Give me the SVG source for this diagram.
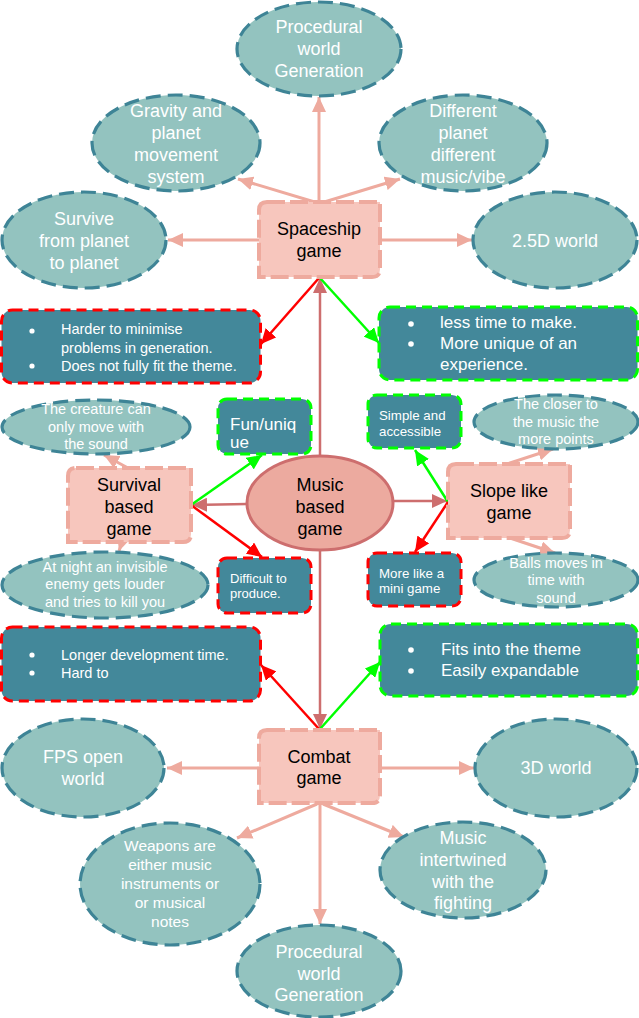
<svg xmlns="http://www.w3.org/2000/svg" width="639" height="1018" viewBox="0 0 639 1018">
<style>
text{font-family:"Liberation Sans",Arial,sans-serif;text-anchor:middle}
.ell{fill:#93c3bf;stroke:#3e8496;stroke-width:3.2;stroke-dasharray:15 7}
.wt{fill:#ffffff}
.bk{fill:#000000}
.game{fill:#f7c6bd;stroke:#eeaa9e;stroke-width:4;stroke-dasharray:18 5}
.boxr{fill:#43889a;stroke:#ff0000;stroke-width:3;stroke-dasharray:10 6}
.boxg{fill:#43889a;stroke:#00ff00;stroke-width:3;stroke-dasharray:10 6}
.sal{stroke:#eeaa9e;stroke-width:3;fill:none;marker-end:url(#ms)}
.dr{stroke:#cd6e6e;stroke-width:2.5;fill:none;marker-end:url(#md)}
.rd{stroke:#ff0000;stroke-width:2.5;fill:none;marker-end:url(#mr)}
.gr{stroke:#00ff00;stroke-width:2.5;fill:none;marker-end:url(#mg)}
.la{text-anchor:start}
</style>
<defs>
<marker id="ms" markerUnits="userSpaceOnUse" markerWidth="16" markerHeight="14" refX="15" refY="7" orient="auto"><path d="M0,0 L15,7 L0,14 z" fill="#eeaa9e"/></marker>
<marker id="md" markerUnits="userSpaceOnUse" markerWidth="16" markerHeight="14" refX="15" refY="7" orient="auto"><path d="M0,0 L15,7 L0,14 z" fill="#cd6e6e"/></marker>
<marker id="mr" markerUnits="userSpaceOnUse" markerWidth="16" markerHeight="14" refX="15" refY="7" orient="auto"><path d="M0,0 L15,7 L0,14 z" fill="#ff0000"/></marker>
<marker id="mg" markerUnits="userSpaceOnUse" markerWidth="16" markerHeight="14" refX="15" refY="7" orient="auto"><path d="M0,0 L15,7 L0,14 z" fill="#00ff00"/></marker>
</defs>
<rect width="639" height="1018" fill="#ffffff"/>

<g id="connectors">
<path class="sal" d="M319,202 L319,97"/>
<path class="sal" d="M318,203 L238,179"/>
<path class="sal" d="M321,203 L400,179"/>
<path class="sal" d="M259,240 L168,240"/>
<path class="sal" d="M380,240 L472,240"/>
<path class="dr" d="M320,457 L320,278"/>
<path class="dr" d="M320,550 L320,729"/>
<path class="dr" d="M247,504 L192,505"/>
<path class="dr" d="M393,501 L447,501"/>
<path class="rd" d="M319,278 L261,344"/>
<path class="gr" d="M320,278 L379,343"/>
<path class="gr" d="M191,505 L262,455"/>
<path class="rd" d="M191,505 L262,557"/>
<path class="gr" d="M448,502 L415,450"/>
<path class="rd" d="M448,502 L415,552"/>
<path class="rd" d="M319,729 L261,665"/>
<path class="gr" d="M320,729 L380,662"/>
<path class="sal" d="M128,468 L104,455"/>
<path class="sal" d="M122,542 L119,551"/>
<path class="sal" d="M507,464 L553,449"/>
<path class="sal" d="M510,538 L555,553"/>
<path class="sal" d="M259,768 L167,768"/>
<path class="sal" d="M380,768 L474,768"/>
<path class="sal" d="M320,803 L320,924"/>
<path class="sal" d="M317,804 L237,838"/>
<path class="sal" d="M323,804 L404,837"/>
</g>

<g id="n-proc-top"><ellipse class="ell" cx="319" cy="49" rx="82" ry="47"/>
<text class="wt" font-size="18"><tspan x="319" y="33">Procedural</tspan><tspan x="319" y="55">world</tspan><tspan x="319" y="77">Generation</tspan></text></g>

<g id="n-gravity"><ellipse class="ell" cx="176" cy="143" rx="84" ry="48"/>
<text class="wt" font-size="18"><tspan x="176" y="117">Gravity and</tspan><tspan x="176" y="139">planet</tspan><tspan x="176" y="161">movement</tspan><tspan x="176" y="183">system</tspan></text></g>

<g id="n-different"><ellipse class="ell" cx="463" cy="143" rx="84" ry="48"/>
<text class="wt" font-size="18"><tspan x="463" y="117">Different</tspan><tspan x="463" y="139">planet</tspan><tspan x="463" y="161">different</tspan><tspan x="463" y="183">music/vibe</tspan></text></g>

<g id="n-survive"><ellipse class="ell" cx="84" cy="240" rx="82" ry="48"/>
<text class="wt" font-size="18"><tspan x="84" y="225">Survive</tspan><tspan x="84" y="247">from planet</tspan><tspan x="84" y="269">to planet</tspan></text></g>

<g id="n-25d"><ellipse class="ell" cx="555" cy="240" rx="82" ry="48"/>
<text class="wt" font-size="18" x="555" y="247">2.5D world</text></g>

<g id="n-spaceship"><path class="game" d="M267,202 L380,202 L380,269 Q380,277 372,277 L259,277 L259,210 Q259,202 267,202 z"/>
<text class="bk" font-size="18"><tspan x="319" y="235">Spaceship</tspan><tspan x="319" y="257">game</tspan></text></g>

<g id="n-cons-space"><rect class="boxr" x="1.5" y="310" width="259" height="73" rx="11"/>
<circle class="wt" cx="32" cy="331" r="2.6"/><circle class="wt" cx="32" cy="366" r="2.6"/>
<text class="wt la" font-size="14.5"><tspan x="61" y="334">Harder to minimise</tspan><tspan x="61" y="353">problems in generation.</tspan><tspan x="61" y="371">Does not fully fit the theme.</tspan></text></g>

<g id="n-pros-space"><rect class="boxg" x="379" y="307" width="258.5" height="73" rx="11"/>
<circle class="wt" cx="411" cy="324" r="2.8"/><circle class="wt" cx="411" cy="344" r="2.8"/>
<text class="wt la" font-size="17"><tspan x="440" y="328">less time to make.</tspan><tspan x="440" y="349">More unique of an</tspan><tspan x="440" y="370">experience.</tspan></text></g>

<g id="n-creature"><ellipse class="ell" cx="96" cy="427" rx="94" ry="27"/>
<text class="wt" font-size="14.5"><tspan x="96" y="414">The creature can</tspan><tspan x="96" y="432">only move with</tspan><tspan x="96" y="449">the sound</tspan></text></g>

<g id="n-fun"><rect class="boxg" x="218" y="399" width="93" height="55" rx="9"/>
<text class="wt la" font-size="17"><tspan x="230" y="430">Fun/uniq</tspan><tspan x="230" y="448">ue</tspan></text></g>

<g id="n-survival"><path class="game" d="M76,468 L191,468 L191,534 Q191,542 183,542 L68,542 L68,476 Q68,468 76,468 z"/>
<text class="bk" font-size="18"><tspan x="129" y="491">Survival</tspan><tspan x="129" y="513">based</tspan><tspan x="129" y="535">game</tspan></text></g>

<g id="n-music"><ellipse cx="320" cy="503" rx="73" ry="47" fill="#ecaa9f" stroke="#cd6e6e" stroke-width="3"/>
<text class="bk" font-size="18"><tspan x="320" y="491">Music</tspan><tspan x="320" y="513">based</tspan><tspan x="320" y="535">game</tspan></text></g>

<g id="n-night"><ellipse class="ell" cx="105" cy="585" rx="103" ry="33"/>
<text class="wt" font-size="14.5"><tspan x="105" y="572">At night an invisible</tspan><tspan x="105" y="589">enemy gets louder</tspan><tspan x="105" y="607">and tries to kill you</tspan></text></g>

<g id="n-difficult"><rect class="boxr" x="218" y="558" width="93" height="55" rx="9"/>
<text class="wt la" font-size="13"><tspan x="230" y="583">Difficult to</tspan><tspan x="230" y="598">produce.</tspan></text></g>

<g id="n-simple"><rect class="boxg" x="368" y="395" width="93" height="53" rx="9"/>
<text class="wt la" font-size="13.3"><tspan x="379" y="420">Simple and</tspan><tspan x="379" y="436">accessible</tspan></text></g>

<g id="n-closer"><ellipse class="ell" cx="556" cy="422" rx="82" ry="27"/>
<text class="wt" font-size="14.5"><tspan x="556" y="409">The closer to</tspan><tspan x="556" y="427">the music the</tspan><tspan x="556" y="444">more points</tspan></text></g>

<g id="n-slope"><path class="game" d="M456,464 L570,464 L570,530 Q570,538 562,538 L448,538 L448,472 Q448,464 456,464 z"/>
<text class="bk" font-size="18"><tspan x="509" y="497">Slope like</tspan><tspan x="509" y="519">game</tspan></text></g>

<g id="n-mini"><rect class="boxr" x="368" y="553" width="93" height="53" rx="9"/>
<text class="wt la" font-size="13.3"><tspan x="379" y="578">More like a</tspan><tspan x="379" y="593">mini game</tspan></text></g>

<g id="n-balls"><ellipse class="ell" cx="556" cy="580" rx="82" ry="27"/>
<text class="wt" font-size="14.5"><tspan x="556" y="568">Balls moves in</tspan><tspan x="556" y="585">time with</tspan><tspan x="556" y="603">sound</tspan></text></g>

<g id="n-cons-combat"><rect class="boxr" x="1.5" y="627" width="259" height="74" rx="11"/>
<circle class="wt" cx="32" cy="655" r="2.6"/><circle class="wt" cx="32" cy="673" r="2.6"/>
<text class="wt la" font-size="14.5"><tspan x="61" y="660">Longer development time.</tspan><tspan x="61" y="678">Hard to</tspan></text></g>

<g id="n-pros-combat"><rect class="boxg" x="380" y="624" width="257.5" height="72" rx="11"/>
<circle class="wt" cx="411" cy="650" r="2.8"/><circle class="wt" cx="411" cy="671" r="2.8"/>
<text class="wt la" font-size="17"><tspan x="441" y="655">Fits into the theme</tspan><tspan x="441" y="676">Easily expandable</tspan></text></g>

<g id="n-combat"><path class="game" d="M267,730 L380,730 L380,795 Q380,803 372,803 L259,803 L259,738 Q259,730 267,730 z"/>
<text class="bk" font-size="18"><tspan x="319" y="763">Combat</tspan><tspan x="319" y="784">game</tspan></text></g>

<g id="n-fps"><ellipse class="ell" cx="83" cy="768" rx="81" ry="49"/>
<text class="wt" font-size="18"><tspan x="83" y="763">FPS open</tspan><tspan x="83" y="785">world</tspan></text></g>

<g id="n-3d"><ellipse class="ell" cx="556" cy="768" rx="81" ry="49"/>
<text class="wt" font-size="18" x="556" y="774">3D world</text></g>

<g id="n-weapons"><ellipse class="ell" cx="170" cy="884" rx="90" ry="61"/>
<text class="wt" font-size="15.5"><tspan x="170" y="851">Weapons are</tspan><tspan x="170" y="870">either music</tspan><tspan x="170" y="889">instruments or</tspan><tspan x="170" y="908">or musical</tspan><tspan x="170" y="927">notes</tspan></text></g>

<g id="n-intertwined"><ellipse class="ell" cx="463" cy="870" rx="83" ry="48"/>
<text class="wt" font-size="18"><tspan x="463" y="844">Music</tspan><tspan x="463" y="866">intertwined</tspan><tspan x="463" y="888">with the</tspan><tspan x="463" y="909">fighting</tspan></text></g>

<g id="n-proc-bottom"><ellipse class="ell" cx="319" cy="971" rx="82" ry="46"/>
<text class="wt" font-size="18"><tspan x="319" y="958">Procedural</tspan><tspan x="319" y="980">world</tspan><tspan x="319" y="1001">Generation</tspan></text></g>
</svg>
